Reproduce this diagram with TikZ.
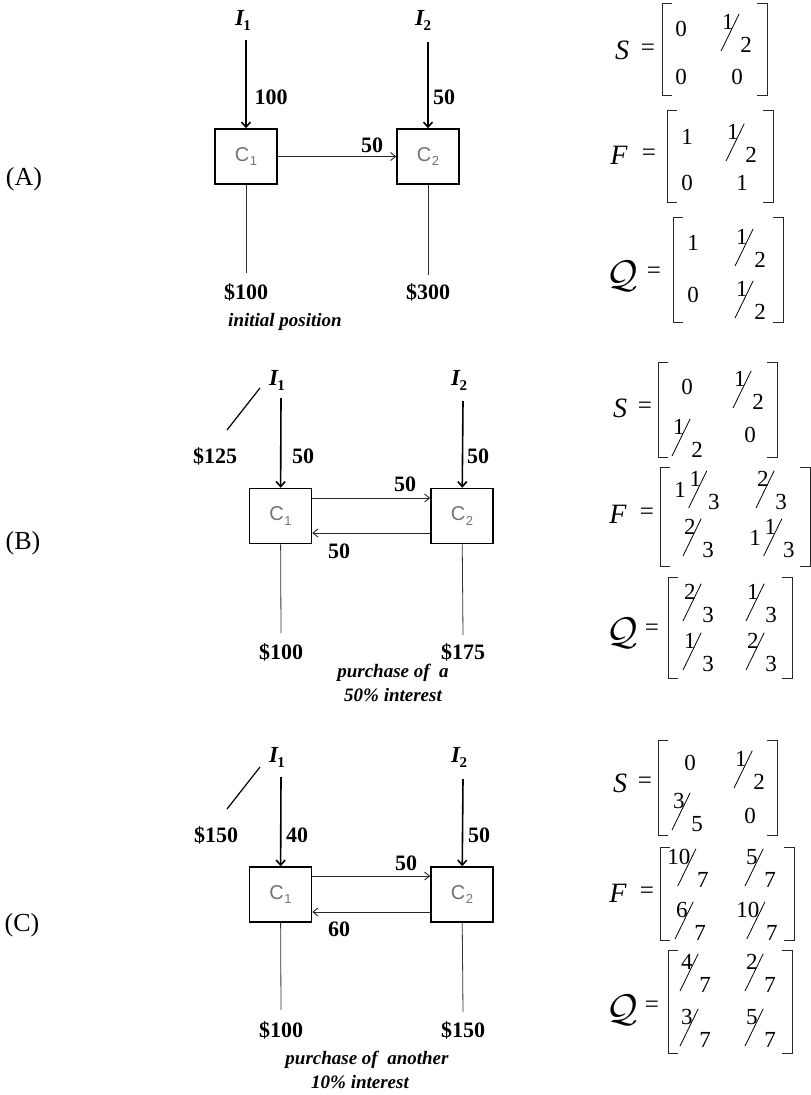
\documentclass[tikz,border=0pt]{standalone}
\usepackage{fontspec}
\setmainfont{Liberation Serif}
\newfontfamily\sansC{Liberation Sans}
\usepackage{graphicx}
\usetikzlibrary{arrows.meta}

\newcommand\slfrac[2]{\mbox{\raisebox{0.5em}{#1}\kern-0.56em\raisebox{-0.45em}{\rotatebox{64}{\rule{1.8em}{0.035em}}}\kern0.04em\raisebox{-0.5em}{#2}}}
\newcommand\Ilab[1]{\fontsize{23}{23}\selectfont\bfseries\itshape I\kern-0.02em\raisebox{-0.22em}{\fontsize{15}{15}\selectfont\upshape #1}}
\newcommand\Clab[1]{C\kern0.03em\raisebox{-0.22em}{\fontsize{13}{13}\selectfont #1}}
\newcommand\bigQ{\scalebox{1.55}{$\mathcal{Q}$}}
\newcommand\mbrk[4]{%
  \draw[brk] ({#1+10},#3) -- (#1,#3) -- (#1,#4) -- ({#1+10},#4);
  \draw[brk] ({#2-10},#3) -- (#2,#3) -- (#2,#4) -- ({#2-10},#4);}

\tikzset{
  num/.style={font=\fontsize{22}{22}\selectfont\bfseries, inner sep=0pt},
  cbox/.style={draw, line width=1.5pt, minimum width=62pt, minimum height=55pt, inner sep=0pt,
    font=\sansC\fontsize{20}{20}\selectfont, text=black!55},
  inarr/.style={line width=1.6pt, -{Straight Barb[length=5pt,width=9pt]}},
  harr/.style={line width=0.9pt, draw=black!85, -{Straight Barb[length=5pt,width=8pt]}},
  dline/.style={line width=0.8pt, draw=black!80},
  slashl/.style={line width=1.2pt},
  capt/.style={font=\fontsize{19}{19}\selectfont\bfseries\itshape, inner sep=0pt},
  plab/.style={font=\fontsize{26}{26}\selectfont, inner sep=0pt},
  ment/.style={font=\fontsize{23}{23}\selectfont, inner sep=0pt},
  mlet/.style={font=\fontsize{28}{28}\selectfont\itshape, inner sep=0pt},
  meq/.style={font=\fontsize{25}{25}\selectfont, inner sep=0pt},
  brk/.style={line width=0.9pt, draw=black!85},
}

\begin{document}
\begin{tikzpicture}[x=1pt,y=-1pt]
\useasboundingbox (0,0) rectangle (811,1095);

% ================= (A) =================
\node[plab] (labA) at (24,179) {(A)};
\node (ai1) at (243,20) {\Ilab{1}};
\node (ai2) at (423,20) {\Ilab{2}};
\coordinate (as1) at (246,40);
\coordinate (as2) at (428,42);
\node[cbox] (a1) at (246,156.5) {\Clab{1}};
\node[cbox] (a2) at (428,156.5) {\Clab{2}};
\draw[inarr] (as1) -- (a1);
\draw[inarr] (as2) -- (a2);
\node[num] (an1) at (271,97) {100};
\node[num] (an2) at (444,97) {50};
\draw[harr] (a1) -- (a2);
\node[num] (an3) at (372,145) {50};
\coordinate (ae1) at (246,273);
\coordinate (ae2) at (428,275);
\draw[dline] (a1) -- (ae1);
\draw[dline] (a2) -- (ae2);
\node[num] (av1) at (246,292) {\$100};
\node[num] (av2) at (428,292) {\$300};
\node[capt] (acap) at (285,322) {initial position};

% ================= (B) =================
\node[plab] (labB) at (23,543) {(B)};
\node (bi1) at (277,380) {\Ilab{1}};
\node (bi2) at (459,380) {\Ilab{2}};
\coordinate (bs1) at (281,398);
\coordinate (bs2) at (463,401);
\node[cbox] (b1) at (280.5,516) {\Clab{1}};
\node[cbox] (b2) at (462,516) {\Clab{2}};
\draw[inarr] (bs1) -- (b1);
\draw[inarr] (bs2) -- (b2);
\node[num] (bn1) at (303,456) {50};
\node[num] (bn2) at (478,456) {50};
\draw[harr] ([yshift=18pt]b1.east) -- ([yshift=18pt]b2.west);
\draw[harr] ([yshift=-17pt]b2.west) -- ([yshift=-17pt]b1.east);
\node[num] (bn3) at (405,484) {50};
\node[num] (bn4) at (339,551) {50};
\coordinate (bk1) at (260,388);
\coordinate (bk2) at (227,430);
\draw[slashl] (bk1) -- (bk2);
\node[num] (bm) at (215,456) {\$125};
\coordinate (be1) at (281,633);
\coordinate (be2) at (463,635);
\draw[dline] (b1) -- (be1);
\draw[dline] (b2) -- (be2);
\node[num] (bv1) at (281,652) {\$100};
\node[num] (bv2) at (463,652) {\$175};
\node[capt] (bcap1) at (393,673) {purchase of \ a};
\node[capt] (bcap2) at (393,695) {50\% interest};

% ================= (C) =================
\node[plab] (labC) at (22,925) {(C)};
\node (ci1) at (277,757) {\Ilab{1}};
\node (ci2) at (459,757) {\Ilab{2}};
\coordinate (cs1) at (281,777);
\coordinate (cs2) at (463,779);
\node[cbox] (c1) at (280.5,894.5) {\Clab{1}};
\node[cbox] (c2) at (462,894.5) {\Clab{2}};
\draw[inarr] (cs1) -- (c1);
\draw[inarr] (cs2) -- (c2);
\node[num] (cn1) at (297,835) {40};
\node[num] (cn2) at (479,835) {50};
\draw[harr] ([yshift=18.5pt]c1.east) -- ([yshift=18.5pt]c2.west);
\draw[harr] ([yshift=-17.5pt]c2.west) -- ([yshift=-17.5pt]c1.east);
\node[num] (cn3) at (406,863) {50};
\node[num] (cn4) at (339,929) {60};
\coordinate (ck1) at (260,767);
\coordinate (ck2) at (227,809);
\draw[slashl] (ck1) -- (ck2);
\node[num] (cm) at (216,835) {\$150};
\coordinate (ce1) at (281,1010);
\coordinate (ce2) at (463,1012);
\draw[dline] (c1) -- (ce1);
\draw[dline] (c2) -- (ce2);
\node[num] (cv1) at (281,1030) {\$100};
\node[num] (cv2) at (463,1030) {\$150};
\node[capt] (ccap1) at (367,1060) {purchase of \ another};
\node[capt] (ccap2) at (360,1082) {10\% interest};

% ================= matrices (A) =================
\node[mlet] (aS) at (622,50) {S};
\node[meq] (aSe) at (648,50) {=};
\mbrk{662}{767}{3}{95}
\node[ment] (aS11) at (681,29) {0};
\node[ment] (aS12) at (737,33) {\slfrac{1}{2}};
\node[ment] (aS21) at (681,77) {0};
\node[ment] (aS22) at (737,77) {0};

\node[mlet] (aF) at (619,155) {F};
\node[meq] (aFe) at (649,155) {=};
\mbrk{667}{773}{110}{202}
\node[ment] (aF11) at (687,137) {1};
\node[ment] (aF12) at (742,143) {\slfrac{1}{2}};
\node[ment] (aF21) at (687,183) {0};
\node[ment] (aF22) at (742,183) {1};

\node[mlet] (aQ) at (622,276) {\bigQ};
\node[meq] (aQe) at (654,273) {=};
\mbrk{673}{783}{217}{322}
\node[ment] (aQ11) at (693,243) {1};
\node[ment] (aQ12) at (751,248) {\slfrac{1}{2}};
\node[ment] (aQ21) at (693,295) {0};
\node[ment] (aQ22) at (751,300) {\slfrac{1}{2}};

% ================= matrices (B) =================
\node[mlet] (bS) at (620,408) {S};
\node[meq] (bSe) at (645,408) {=};
\mbrk{658}{777}{362}{457}
\node[ment] (bS11) at (687,387) {0};
\node[ment] (bS12) at (749,390) {\slfrac{1}{2}};
\node[ment] (bS21) at (688,438) {\slfrac{1}{2}};
\node[ment] (bS22) at (750,435) {0};

\node[mlet] (bF) at (618,514) {F};
\node[meq] (bFe) at (647,514) {=};
\mbrk{660}{810}{467}{566}
\node[ment] (bF11) at (697,490) {1\,\slfrac{1}{3}};
\node[ment] (bF12) at (772,490) {\slfrac{2}{3}};
\node[ment] (bF21) at (699,538) {\slfrac{2}{3}};
\node[ment] (bF22) at (772,538) {1\,\slfrac{1}{3}};

\node[mlet] (bQ) at (622,633) {\bigQ};
\node[meq] (bQe) at (652,630) {=};
\mbrk{668}{792}{577}{678}
\node[ment] (bQ11) at (699,603) {\slfrac{2}{3}};
\node[ment] (bQ12) at (762,603) {\slfrac{1}{3}};
\node[ment] (bQ21) at (699,652) {\slfrac{1}{3}};
\node[ment] (bQ22) at (762,652) {\slfrac{2}{3}};

% ================= matrices (C) =================
\node[mlet] (cS) at (620,783) {S};
\node[meq] (cSe) at (645,783) {=};
\mbrk{658}{777}{740}{835}
\node[ment] (cS11) at (690,763) {0};
\node[ment] (cS12) at (750,770) {\slfrac{1}{2}};
\node[ment] (cS21) at (688,812) {\slfrac{3}{5}};
\node[ment] (cS22) at (750,816) {0};

\node[mlet] (cF) at (618,893) {F};
\node[meq] (cFe) at (647,893) {=};
\mbrk{660}{794}{847}{940}
\node[ment] (cF11) at (688,868) {\slfrac{10}{7}};
\node[ment] (cF12) at (761,868) {\slfrac{5}{7}};
\node[ment] (cF21) at (691,921) {\slfrac{6}{7}};
\node[ment] (cF22) at (757,921) {\slfrac{10}{7}};

\node[mlet] (cQ) at (622,1010) {\bigQ};
\node[meq] (cQe) at (652,1007) {=};
\mbrk{668}{792}{950}{1053}
\node[ment] (cQ11) at (696,973) {\slfrac{4}{7}};
\node[ment] (cQ12) at (761,973) {\slfrac{2}{7}};
\node[ment] (cQ21) at (696,1028) {\slfrac{3}{7}};
\node[ment] (cQ22) at (761,1028) {\slfrac{5}{7}};
\end{tikzpicture}
\end{document}
